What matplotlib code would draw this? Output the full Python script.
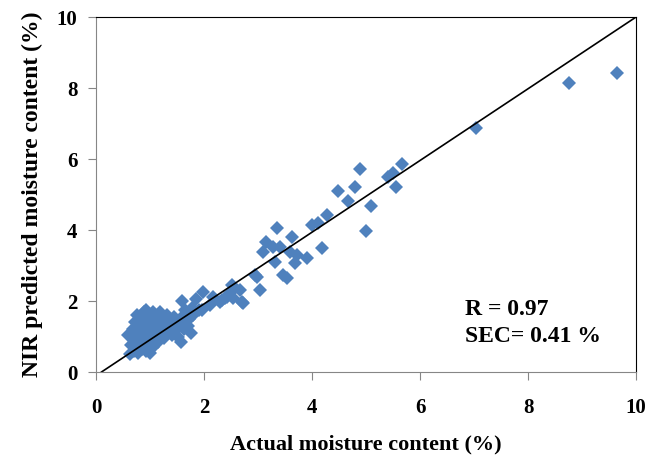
import matplotlib.pyplot as plt
import numpy as np

# actual vs NIR predicted moisture content (%)
actual = [
    0.60, 0.62, 0.65, 0.68, 0.70, 0.72, 0.72, 0.75, 0.78, 0.78, 0.80, 0.80, 0.82, 0.85, 0.85,
    0.88, 0.88, 0.90, 0.90, 0.92, 0.92, 0.95, 0.95, 0.97, 0.98, 1.00, 1.00, 1.00, 1.02, 1.05,
    1.05, 1.05, 1.08, 1.10, 1.10, 1.12, 1.15, 1.15, 1.15, 1.18, 1.20, 1.20, 1.22, 1.25, 1.25,
    1.28, 1.30, 1.32, 1.35, 1.38, 1.40, 1.42, 1.45, 1.48, 1.50, 1.52, 1.55, 1.58, 1.60, 1.62,
    1.65, 1.65, 1.70, 1.72, 1.75, 1.78, 1.60, 1.80, 1.85, 1.90,
    1.96, 1.98, 2.11, 2.17, 2.30, 2.33, 2.39, 2.43, 2.48, 2.52, 2.54, 2.67, 2.70, 2.72,
    2.94, 2.98, 3.04, 3.09, 3.15, 3.28, 3.31, 3.35, 3.40, 3.46, 3.53, 3.59, 3.63, 3.69,
    3.72, 3.91, 4.00, 4.11, 4.19, 4.28, 4.48, 4.67, 4.80, 4.89, 5.00, 5.09, 5.41, 5.50,
    5.56, 5.67, 7.04, 8.76, 9.65,
]
predicted = [
    1.05, 0.50, 0.75, 1.20, 0.60, 0.90, 1.40, 1.60, 0.55, 1.10, 0.80, 1.30, 1.50, 0.65, 1.00,
    1.70, 1.20, 0.90, 1.45, 0.60, 1.75, 1.10, 1.35, 0.80, 1.60, 0.55, 1.00, 1.25, 1.50, 0.70,
    1.15, 1.70, 0.90, 1.35, 1.60, 1.05, 0.85, 1.25, 1.50, 1.70, 1.00, 1.40, 1.15, 0.95, 1.55,
    1.30, 1.10, 1.60, 1.20, 1.45, 1.05, 1.30, 1.55, 1.20, 1.40, 1.00, 1.30, 0.85, 1.55, 1.20,
    1.75, 1.40, 1.30, 1.50, 1.10, 1.80, 2.00, 1.60, 2.05, 1.75,
    1.75, 2.25, 1.89, 2.11, 1.97, 2.03, 2.08, 2.11, 2.23, 2.45, 2.08, 2.31, 1.97, 1.94,
    2.73, 2.68, 2.31, 3.38, 3.66, 3.52, 3.10, 4.05, 3.52, 2.73, 2.65, 3.38, 3.80, 3.07,
    3.30, 3.21, 4.14, 4.20, 3.49, 4.42, 5.10, 4.82, 5.21, 5.72, 3.97, 4.68, 5.49, 5.60,
    5.21, 5.86, 6.87, 8.14, 8.42,
]

fit_x = [0.1, 10]
fit_y = [0, 10]

plt.rcParams["font.family"] = "Liberation Serif"
plt.rcParams["font.weight"] = "bold"

fig = plt.figure(figsize=(6.49, 4.61), dpi=100)
ax = fig.add_axes([0.148, 0.193, 0.832, 0.770])

ax.plot(actual, predicted, "D", color="#4F81BD", markersize=7, markeredgewidth=0)
ax.plot(fit_x, fit_y, color="black", linewidth=1.2)

ax.set_xlim(0, 10)
ax.set_ylim(0, 10)
ax.set_xticks(np.arange(0, 11, 2))
ax.set_yticks(np.arange(0, 11, 2))

for side in ["left", "bottom"]:
    ax.spines[side].set_color("#868686")
for side in ["top", "right"]:
    ax.spines[side].set_color("black")
ax.tick_params(axis="both", direction="out", length=5.5, color="#868686",
               labelsize=15, pad=8)
ax.tick_params(axis="x", pad=13)

ax.set_xlabel("Actual moisture content (%)", fontsize=16, fontweight="bold", labelpad=12)
ax.set_ylabel("NIR predicted moisture content (%)", fontsize=17, fontweight="bold", labelpad=10)

ax.text(6.83, 1.6, "R = 0.97", fontsize=17, fontweight="bold")
ax.text(6.83, 0.85, "SEC= 0.41 %", fontsize=17, fontweight="bold")

plt.savefig("out.png", dpi=100)
